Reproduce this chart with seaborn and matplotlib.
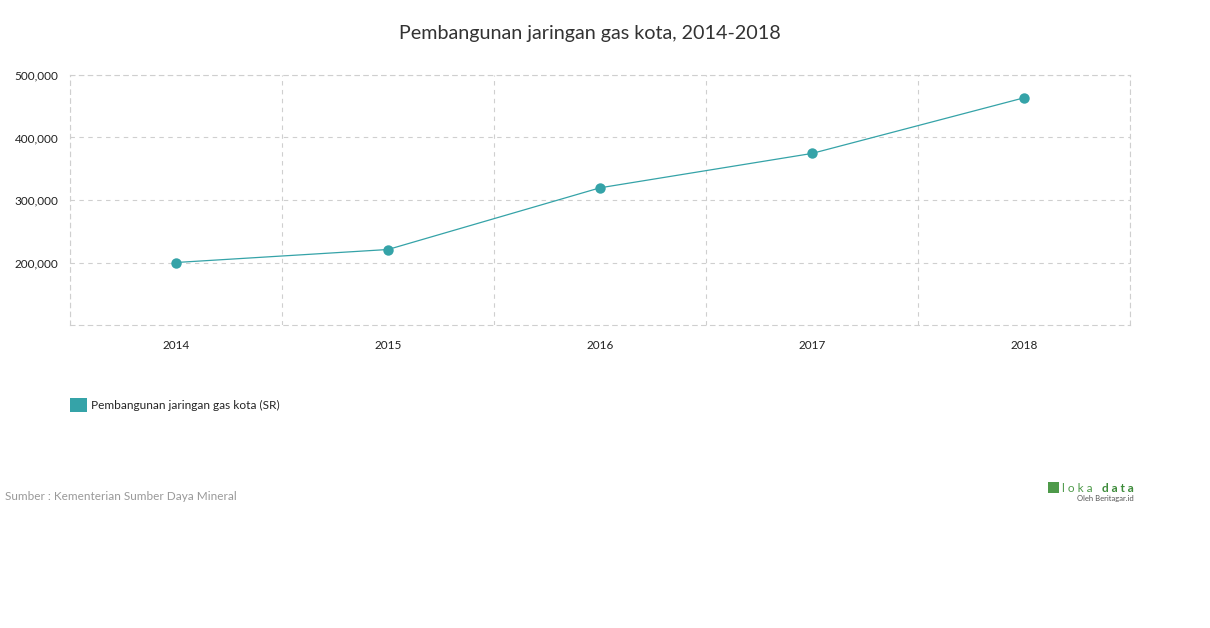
import matplotlib
matplotlib.use("Agg")
import matplotlib.pyplot as plt
import seaborn as sns
import pandas as pd
from matplotlib.patches import Patch

years = ["2014", "2015", "2016", "2017", "2018"]
values = [200000, 220800, 319500, 374500, 463500]
series_name = "Pembangunan jaringan gas kota (SR)"
title = "Pembangunan jaringan gas kota, 2014-2018"
yticks = [200000, 300000, 400000, 500000]
source = "Sumber : Kementerian Sumber Daya Mineral"

sns.set_style("white")
plt.rcParams["font.family"] = ["Lato", "DejaVu Sans"]

teal = "#35a3a8"
grid_c = "#cfcfcf"

fig = plt.figure(figsize=(12.1, 6.28), dpi=100)
ax = fig.add_axes([70/1210, 1 - 325/628, 1060/1210, 250/628])

df = pd.DataFrame({"year": years, "value": values})
df["pos"] = range(len(years))
sns.lineplot(data=df, x="pos", y="value", ax=ax, color=teal, linewidth=0.9,
             marker="o", markersize=7.5, markeredgewidth=0, markerfacecolor=teal)

ax.set_xlim(-0.5, len(years) - 0.5)
ax.set_ylim(100000, 500000)
ax.set_xticks(range(len(years)))
ax.set_xticklabels(years)
ax.set_xticks([i - 0.5 for i in range(len(years) + 1)], minor=True)
ax.set_yticks(yticks)
ax.set_yticklabels([f"{v:,}" for v in yticks])
ax.tick_params(axis="both", which="both", length=0, labelsize=8.5, labelcolor="#222222")
ax.tick_params(axis="x", pad=11)
ax.tick_params(axis="y", pad=8.5)
ax.yaxis.grid(True, which="major", color=grid_c, linestyle=(0, (4, 4)), linewidth=0.8)
ax.xaxis.grid(True, which="minor", color=grid_c, linestyle=(0, (4, 4)), linewidth=0.8)
ax.xaxis.grid(False, which="major")
for s in ax.spines.values():
    s.set_visible(True)
    s.set_color(grid_c)
    s.set_linestyle((0, (4, 4)))
    s.set_linewidth(0.8)
ax.set_xlabel("")
ax.set_ylabel("")
ax.set_axisbelow(True)

fig.text(590/1210, 1 - 33/628, title, ha="center", va="center", fontsize=14.2, color="#333333")

handle = Patch(facecolor=teal, edgecolor="none")
fig.legend([handle], [series_name], loc="center left",
           bbox_to_anchor=(59/1210, 1 - 405/628), frameon=False, fontsize=8.6,
           handlelength=1.45, handleheight=1.45, handletextpad=0.35)

fig.text(5/1210, 1 - 497/628, source, ha="left", va="center", fontsize=8.5, color="#999999")

fig.text(1093/1210, 1 - 488/628, "l o k a", ha="right", va="center", fontsize=8.5, color="#4e9a4a")
fig.text(1134/1210, 1 - 488/628, "d a t a", ha="right", va="center", fontsize=8.5, color="#3d8b3a", fontweight="bold")
fig.text(1134/1210, 1 - 499/628, "Oleh Beritagar.id", ha="right", va="center", fontsize=5.5, color="#555555")
fig.patches.append(plt.Rectangle((1048/1210, 1 - 493/628), 11/1210, 11/628, transform=fig.transFigure,
                                 facecolor="#4e9a4a", edgecolor="none"))

fig.savefig("out.png", dpi=100)
